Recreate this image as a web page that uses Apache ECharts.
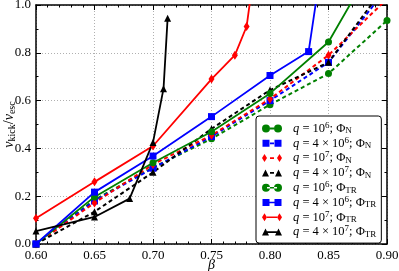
<!DOCTYPE html>
<html><head><meta charset="utf-8">
<script src="https://cdn.jsdelivr.net/npm/echarts@6/dist/echarts.min.js"></script>
<style>html,body{margin:0;padding:0;background:#fff}#c{width:399px;height:271px}</style>
</head><body><div id="c"></div>
<script>
// ---- data ----
const betaN = [0.60, 0.65, 0.70, 0.75, 0.80, 0.85, 0.90];
const vN_q1e6 = [0.0, 0.185, 0.32, 0.44, 0.583, 0.713, 0.935];
const vN_q4e6 = [0.0, 0.18, 0.317, 0.45, 0.60, 0.76, 1.07];
const vN_q1e7 = [0.0, 0.172, 0.333, 0.455, 0.607, 0.79, 1.025];
const vN_q4e7 = [0.0, 0.135, 0.30, 0.482, 0.644, 0.76, 1.09];

const betaTR_q1e6 = [0.60, 0.65, 0.70, 0.75, 0.80, 0.85, 0.90];
const vTR_q1e6 = [0.0, 0.197, 0.34, 0.47, 0.63, 0.845, 1.27];
const betaTR_q4e6 = [0.60, 0.65, 0.70, 0.75, 0.80, 0.833, 0.845];
const vTR_q4e6 = [0.0, 0.217, 0.368, 0.533, 0.705, 0.805, 1.2];
const betaTR_q1e7 = [0.60, 0.65, 0.70, 0.75, 0.77, 0.78, 0.785];
const vTR_q1e7 = [0.108, 0.26, 0.41, 0.69, 0.79, 0.91, 1.09];
const betaTR_q4e7 = [0.60, 0.65, 0.68, 0.70, 0.709, 0.7125];
const vTR_q4e7 = [0.054, 0.113, 0.19, 0.425, 0.65, 0.945];

const xTicks = [0.60, 0.65, 0.70, 0.75, 0.80, 0.85, 0.90];
const yTicks = [0.0, 0.2, 0.4, 0.6, 0.8, 1.0];
const qMantissa = ['10', '4 × 10', '10', '4 × 10'];
const qExponent = ['6', '6', '7', '7'];
const potLabels = ['N', 'TR'];

// ---- styles ----
const FONT = 'Liberation Serif';
const colors = ['#008000', '#0000ff', '#ff0000', '#000000'];
const symbols = ['circle', 'rect', 'diamond', 'triangle'];
const symSizes = [7, 7, [6, 9], 7];

const circ = (x) => `M${x},4A4,4,0,1,0,${x+8},4A4,4,0,1,0,${x},4Z`;
const marks = {
  circle: circ(0) + ' ' + circ(12),
  rect: 'M0.5,0.5L7.5,0.5L7.5,7.5L0.5,7.5Z M12.5,0.5L19.5,0.5L19.5,7.5L12.5,7.5Z M0,0L0,0Z M20,8L20,8Z',
  diamond: 'M2.5,0L5,4L2.5,8L0,4Z M17.5,0L20,4L17.5,8L15,4Z',
  triangle: 'M3.5,0.5L7,7.5L0,7.5Z M16.5,0.5L20,7.5L13,7.5Z M0,0L0,0Z M20,8L20,8Z'
};
const solidBar = ' M5,3.2L15,3.2L15,4.8L5,4.8Z';
const dashBar = ' M8,3.1L12,3.1L12,4.9L8,4.9Z';

function pairs(xs, ys) { return xs.map((x, i) => [x, ys[i]]); }

const dataN = [vN_q1e6, vN_q4e6, vN_q1e7, vN_q4e7];
const dataTR = [[betaTR_q1e6, vTR_q1e6], [betaTR_q4e6, vTR_q4e6], [betaTR_q1e7, vTR_q1e7], [betaTR_q4e7, vTR_q4e7]];

const series = [];
const legendData = [];
const nameRich = {};
[0, 1].forEach(p => {
  for (let k = 0; k < 4; k++) {
    const name = 'q' + k + potLabels[p];
    nameRich[name] = '{i|q}{t| = ' + qMantissa[k] + '}{sup|' + qExponent[k] + '}{t|; Φ}{sub|' + potLabels[p] + '}';
    const dashed = p === 0;
    series.push({
      name: name,
      type: 'line',
      data: dashed ? pairs(betaN, dataN[k]) : pairs(dataTR[k][0], dataTR[k][1]),
      symbol: symbols[k],
      symbolSize: symSizes[k],
      showSymbol: true,
      clip: true,
      z: dashed ? 2 : 3,
      itemStyle: { color: colors[k] },
      lineStyle: { color: colors[k], width: dashed ? 2 : 1.8, type: dashed ? [4, 3] : 'solid' },
      emphasis: { disabled: true },
      animation: false
    });
    legendData.push({ name: name, icon: 'path://' + marks[symbols[k]] + (dashed ? dashBar : solidBar) });
  }
});

const axisCommon = {
  type: 'value',
  nameMoveOverlap: false,
  axisLine: { show: true, onZero: false, lineStyle: { color: '#000', width: 1.5 } },
  axisTick: { show: true, inside: true, length: 5, lineStyle: { color: '#000', width: 1 } },
  minorTick: { show: true, length: 2.5, lineStyle: { color: '#000', width: 1 } },
};

const chart = echarts.init(document.getElementById('c'), null, { renderer: 'canvas' });
chart.setOption({
  animation: false,
  backgroundColor: '#fff',
  grid: { left: 36, right: 12, top: 5, bottom: 27, containLabel: false, outerBoundsMode: 'none' },
  xAxis: [
    Object.assign({}, axisCommon, {
      min: xTicks[0], max: xTicks[xTicks.length - 1], interval: 0.05,
      minorTick: Object.assign({}, axisCommon.minorTick, { splitNumber: 5 }),
      axisLabel: { formatter: v => v.toFixed(2), fontFamily: FONT, fontSize: 13, color: '#000', margin: 5 },
      splitLine: { show: true, lineStyle: { color: '#b0b0b0', type: [1, 2], width: 1 } },
      name: 'β', nameLocation: 'middle', nameGap: 14,
      nameTextStyle: { fontFamily: FONT, fontSize: 14, fontStyle: 'italic', color: '#000' }
    }),
    Object.assign({}, axisCommon, {
      position: 'top', min: xTicks[0], max: xTicks[xTicks.length - 1], interval: 0.05,
      minorTick: Object.assign({}, axisCommon.minorTick, { splitNumber: 5 }),
      axisLabel: { show: false }, splitLine: { show: false }
    })
  ],
  yAxis: [
    Object.assign({}, axisCommon, {
      min: yTicks[0], max: yTicks[yTicks.length - 1], interval: 0.2,
      minorTick: Object.assign({}, axisCommon.minorTick, { splitNumber: 2 }),
      axisLabel: { formatter: v => v.toFixed(1), fontFamily: FONT, fontSize: 13, color: '#000', margin: 5 },
      splitLine: { show: true, lineStyle: { color: '#b0b0b0', type: [1, 2], width: 1 } },
      name: '{i|v}{sub|kick}{t|/}{i|v}{sub|esc}', nameLocation: 'middle', nameRotate: 90, nameGap: 27,
      nameTextStyle: {
        fontFamily: FONT, fontSize: 14, color: '#000', align: 'center', verticalAlign: 'middle',
        rich: {
          i: { fontFamily: FONT, fontSize: 14, fontStyle: 'italic', color: '#000' },
          t: { fontFamily: FONT, fontSize: 14, color: '#000' },
          sub: { fontFamily: FONT, fontSize: 10, color: '#000', padding: [6, 0, 0, 0] }
        }
      }
    }),
    Object.assign({}, axisCommon, {
      position: 'right', min: yTicks[0], max: yTicks[yTicks.length - 1], interval: 0.2,
      minorTick: Object.assign({}, axisCommon.minorTick, { splitNumber: 2 }),
      axisLabel: { show: false }, splitLine: { show: false }
    })
  ],
  legend: {
    orient: 'vertical', left: 256, top: 116,
    data: legendData,
    backgroundColor: '#fff', borderColor: '#000', borderWidth: 1, borderRadius: 3,
    padding: [5, 5, 4, 6],
    itemWidth: 20, itemHeight: 8, itemGap: 0.3,
    selectedMode: false,
    formatter: n => nameRich[n],
    textStyle: {
      fontFamily: FONT, fontSize: 12.5, color: '#000', lineHeight: 14,
      rich: {
        i: { fontFamily: FONT, fontSize: 12.5, fontStyle: 'italic', color: '#000', padding: [0, 0, 0, 6] },
        t: { fontFamily: FONT, fontSize: 12.5, color: '#000' },
        sup: { fontFamily: FONT, fontSize: 9, color: '#000', padding: [0, 0, 6, 0] },
        sub: { fontFamily: FONT, fontSize: 9, color: '#000', padding: [5, 0, 0, 0] }
      }
    }
  },
  series: series
});
</script>
</body></html>
